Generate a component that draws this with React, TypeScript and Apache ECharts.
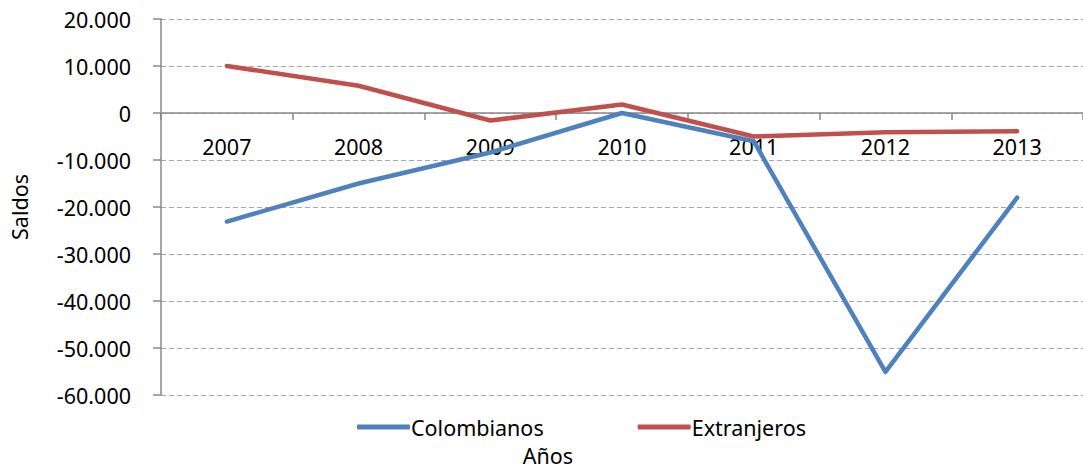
import React, { useEffect, useRef } from "react";
import * as echarts from "echarts";

const years = ["2007", "2008", "2009", "2010", "2011", "2012", "2013"];
const colombianos = [-23100, -15000, -8400, 0, -6000, -55100, -18000];
const extranjeros = [10000, 5800, -1600, 1800, -5000, -4100, -3900];

const FONT = "'Noto Sans', 'Open Sans', sans-serif";
const FS = 21.5;

function fmt(v: number): string {
  const s = Math.abs(v).toString().replace(/\B(?=(\d{3})+(?!\d))/g, ".");
  return (v < 0 ? "-" : "") + s;
}

export default function App() {
  const ref = useRef<HTMLDivElement>(null);
  useEffect(() => {
    document.body.style.margin = "0";
    const chart = echarts.init(ref.current!, null, { renderer: "svg" });
    chart.setOption({
      animation: false,
      textStyle: { fontFamily: FONT },
      grid: { left: 153, top: 19, width: 935, height: 376, containLabel: false },
      legend: {
        left: 352,
        top: 411,
        itemGap: 94,
        itemWidth: 53,
        itemHeight: 5,
        icon: "roundRect",
        textStyle: { fontSize: FS, color: "#000", fontFamily: FONT, padding: [0, 0, 0, -4] },
        data: ["Colombianos", "Extranjeros"],
      },
      graphic: [
        {
          type: "text",
          x: 548,
          y: 455,
          style: { text: "Años", fill: "#000", font: FS + "px " + FONT, textAlign: "center", textVerticalAlign: "middle" },
        },
      ],
      xAxis: {
        type: "category",
        data: years,
        boundaryGap: true,
        offset: -282,
        axisLine: { onZero: false, lineStyle: { color: "#888", width: 1.5 } },
        axisTick: { show: true, length: 7, inside: false, lineStyle: { color: "#888", width: 1.5 } },
        axisLabel: { color: "#000", fontSize: FS, margin: 22, fontFamily: FONT },
        splitLine: { show: false },
      },
      yAxis: {
        type: "value",
        min: -60000,
        max: 20000,
        interval: 10000,
        name: "Saldos",
        nameLocation: "middle",
        nameGap: 131,
        nameRotate: 90,
        nameTextStyle: { color: "#000", fontSize: FS, fontFamily: FONT },
        axisLine: { show: true, lineStyle: { color: "#888", width: 1.5 } },
        axisTick: { show: true, length: 8, lineStyle: { color: "#888", width: 1.5 } },
        axisLabel: { color: "#000", fontSize: FS, margin: 30, formatter: (v: number) => fmt(v), fontFamily: FONT },
        splitLine: { show: true, lineStyle: { color: "#A6A6A6", type: [5, 3], width: 1.2 } },
      },
      series: [
        {
          name: "Colombianos",
          type: "line",
          data: colombianos,
          showSymbol: false,
          symbol: "none",
          lineStyle: { color: "#4F81BD", width: 4.5, cap: "round", join: "round" },
          itemStyle: { color: "#4F81BD" },
        },
        {
          name: "Extranjeros",
          type: "line",
          data: extranjeros,
          showSymbol: false,
          symbol: "none",
          lineStyle: { color: "#C0504D", width: 4.5, cap: "round", join: "round" },
          itemStyle: { color: "#C0504D" },
        },
      ],
    });
    return () => chart.dispose();
  }, []);
  return <div ref={ref} style={{ width: 1083, height: 469 }} />;
}
